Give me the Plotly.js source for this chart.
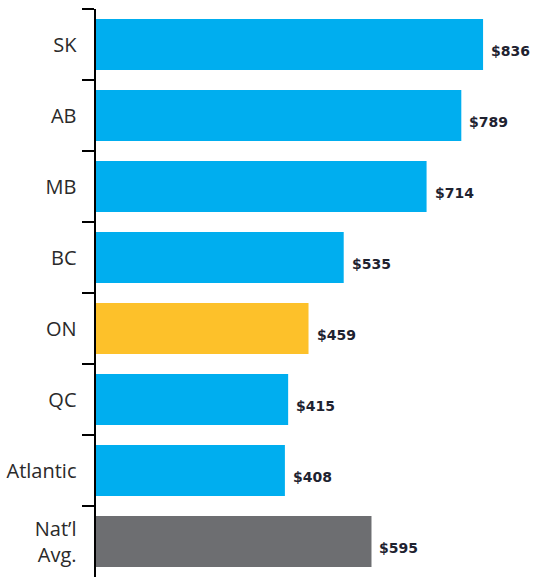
<!DOCTYPE html>
<html>
<head>
<meta charset="utf-8">
<script src="https://cdn.plot.ly/plotly-3.0.1.min.js"></script>
<style>html,body{margin:0;padding:0;background:#fff;}#chart{width:534px;height:579px;}</style>
</head>
<body>
<div id="chart"></div>
<script>
const categories = ["SK", "AB", "MB", "BC", "ON", "QC", "Atlantic", "Nat’l<br>Avg."];
const values = [836, 789, 714, 535, 459, 415, 408, 595];
const barColors = ["#00AEEF", "#00AEEF", "#00AEEF", "#00AEEF", "#FDC12A", "#00AEEF", "#00AEEF", "#6D6E71"];
const valueLabels = values.map(v => "$" + v);

const trace = {
  type: "bar",
  orientation: "h",
  x: values,
  y: categories,
  marker: {color: barColors, line: {width: 0}},
  hoverinfo: "none"
};

const annotations = values.map((v, i) => ({
  x: v, y: categories[i], xref: "x", yref: "y",
  text: "<b>" + valueLabels[i] + "</b>", showarrow: false,
  xanchor: "left", yanchor: "middle", xshift: 6, yshift: -6,
  font: {family: "DejaVu Sans", size: 14, color: "#1e2230"}
}));

const layout = {
  width: 534, height: 579,
  margin: {l: 96, r: 0, t: 9, b: 2},
  paper_bgcolor: "#fff", plot_bgcolor: "#fff",
  bargap: 0.28,
  showlegend: false,
  xaxis: {range: [0, 946], visible: false, showgrid: false, zeroline: false},
  yaxis: {
    type: "category",
    categoryorder: "array", categoryarray: categories,
    autorange: "reversed",
    showline: true, linecolor: "#000", linewidth: 2.5,
    ticks: "outside", tickson: "boundaries", ticklen: 12, tickwidth: 2, tickcolor: "#000",
    ticklabelstandoff: 13,
    showgrid: false, zeroline: false,
    tickfont: {family: "Open Sans", size: 20, color: "#2a2a2a"}
  },
  annotations: annotations
};

Plotly.newPlot("chart", [trace], layout, {staticPlot: true, displayModeBar: false});
</script>
</body>
</html>
